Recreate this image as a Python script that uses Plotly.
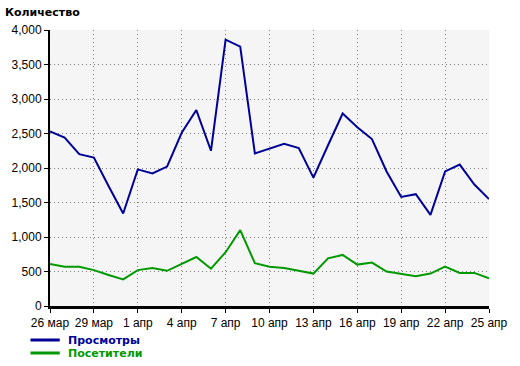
import plotly.graph_objects as go

days = ["26 мар", "27 мар", "28 мар", "29 мар", "30 мар", "31 мар",
        "1 апр", "2 апр", "3 апр", "4 апр", "5 апр", "6 апр", "7 апр",
        "8 апр", "9 апр", "10 апр", "11 апр", "12 апр", "13 апр", "14 апр",
        "15 апр", "16 апр", "17 апр", "18 апр", "19 апр", "20 апр", "21 апр",
        "22 апр", "23 апр", "24 апр", "25 апр"]

views = [2530, 2440, 2200, 2150, 1740, 1340, 1980, 1920, 2020, 2510,
         2840, 2250, 3860, 3760, 2210, 2280, 2350, 2290, 1860, 2330,
         2790, 2590, 2420, 1950, 1580, 1620, 1320, 1950, 2050, 1760,
         1550]

visitors = [610, 570, 570, 520, 450, 385, 520, 550, 510, 610,
            710, 540, 780, 1100, 620, 570, 550, 510, 470, 690,
            740, 600, 630, 500, 470, 430, 470, 570, 480, 480,
            400]

series_names = ["Просмотры", "Посетители"]
series_colors = ["#000099", "#009900"]

x_idx = list(range(len(days)))
tick_idx = x_idx[::3]
tick_txt = [days[i] for i in tick_idx]
y_ticks = [0, 500, 1000, 1500, 2000, 2500, 3000, 3500, 4000]

fig = go.Figure()
for name, vals, col in zip(series_names, [views, visitors], series_colors):
    fig.add_trace(go.Scatter(x=x_idx, y=vals, mode="lines", name=name,
                             line=dict(color=col, width=2), showlegend=False))

font = "Liberation Sans, Arial, sans-serif"
grid = dict(showgrid=True, gridcolor="#808080", griddash="1px,3px", gridwidth=1)
fig.update_layout(
    width=520, height=366,
    margin=dict(l=45, r=25, t=30, b=60),
    paper_bgcolor="white", plot_bgcolor="#f5f5f5",
    font=dict(family=font, size=12, color="black"),
    xaxis=dict(range=[0, 30], tickvals=tick_idx, ticktext=tick_txt, **grid,
               showline=True, linecolor="black", linewidth=3,
               ticks="outside", ticklen=4, tickcolor="black", tickwidth=1,
               zeroline=False, fixedrange=True),
    yaxis=dict(range=[0, 4000], tickvals=y_ticks, tickformat=",d", **grid,
               showline=True, linecolor="black", linewidth=2,
               ticks="outside", ticklen=4, tickcolor="black", tickwidth=1,
               zeroline=False, fixedrange=True),
    title=dict(text="<b>Количество</b>", x=5/520, xref="container", xanchor="left",
               y=1 - 12/366, yref="container", yanchor="middle",
               font=dict(family="DejaVu Sans, sans-serif", size=11, color="black")),
)

# legend drawn below the plot
leg_y = [340, 353]
for name, col, ypx in zip(series_names, series_colors, leg_y):
    yp = (306 - ypx) / 276
    fig.add_shape(type="line", xref="paper", yref="paper",
                  x0=(25 - 45) / 450, x1=(55 - 45) / 450, y0=yp, y1=yp,
                  line=dict(color=col, width=3))
    fig.add_annotation(text="<b>" + name + "</b>", xref="paper", yref="paper",
                       x=(61 - 45) / 450, y=yp, xanchor="left", yanchor="middle",
                       showarrow=False,
                       font=dict(family="DejaVu Sans, sans-serif", size=11, color=col))

fig.write_html("out.html")
